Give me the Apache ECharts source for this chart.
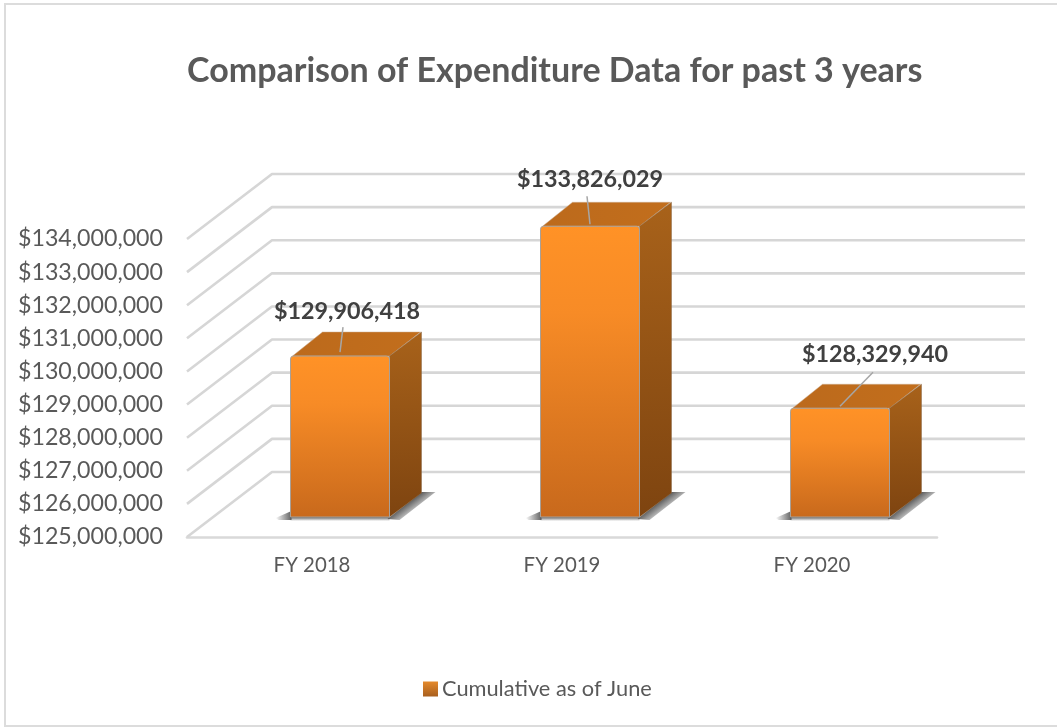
<!DOCTYPE html>
<html><head><meta charset="utf-8">
<style>html,body{margin:0;padding:0;background:#fff}#c{width:1057px;height:727px}</style>
<script src="https://cdn.jsdelivr.net/npm/echarts@6/dist/echarts.min.js"></script>
</head><body><div id="c"></div>
<script>
const categories = ['FY 2018', 'FY 2019', 'FY 2020'];
const seriesName = 'Cumulative as of June';
const values = [129906418, 133826029, 128329940];
const tickValues = [125000000,126000000,127000000,128000000,129000000,130000000,131000000,132000000,133000000,134000000];
const titleText = 'Comparison of Expenditure Data for past 3 years';
const FONT = 'Lato, "Open Sans", sans-serif';

// 3D projection of the Excel-style box (pixels)
const WALL = {dx: 85, dy: -65};
const BAR = {widthRatio: 0.396, shiftRatio: 0.112, shiftY: -20, dx: 32, dy: -24, bevel: 1.5};
// where each hand-moved data label sits relative to the bar's top-front-centre
const LABEL_SHIFT = [{lx: 7, ly: -45, ax: 3, ay: -29, bx: 0, by: -4},
                     {lx: 0, ly: -47, ax: -3, ay: -30, bx: 0, by: -2},
                     {lx: 35, ly: -54, ax: 33, ay: -36, bx: 0, by: -2}];

const usd = v => '$' + Number(v).toLocaleString('en-US');
const chart = echarts.init(document.getElementById('c'), null, {renderer: 'canvas'});

function renderWall(params, api) {
  const v = api.value(0);
  const rect = params.coordSys;
  const p = api.coord([0, v]);
  const x0 = rect.x, y0 = p[1];
  return {type: 'polyline', silent: true,
    shape: {points: [[x0, y0], [x0 + WALL.dx, y0 + WALL.dy], [rect.x + rect.width + 88, y0 + WALL.dy]]},
    style: {fill: null, stroke: '#d6d6d6', lineWidth: 2.6, lineJoin: 'round'}};
}

function fade(x, y, x2, y2) {
  return {type: 'linear', global: true, x: x, y: y, x2: x2, y2: y2,
    colorStops: [{offset: 0, color: 'rgba(80,80,80,0.9)'}, {offset: 1, color: 'rgba(80,80,80,0)'}]};
}

function renderBar(params, api) {
  const i = api.value(0);
  const c = api.coord([i, api.value(1)]);
  const base = api.coord([i, tickValues[0]]);
  const band = api.size([1, 0])[0];
  const w = band * BAR.widthRatio;
  const cx = c[0] + band * BAR.shiftRatio;
  const l = cx - w / 2, r = cx + w / 2;
  const t = c[1] + BAR.shiftY + BAR.bevel, b = base[1] + BAR.shiftY;
  const dx = BAR.dx, dy = BAR.dy;
  const s = LABEL_SHIFT[i];
  const mx = r + dx / 2, my = b + dy / 2;
  return {type: 'group', children: [
    {type: 'polygon', silent: true, shape: {points: [[l + 1, b - 6], [l - 15, b + 1], [l - 12, b + 3], [l + 1, b + 3]]},
      style: {fill: fade(l + 1, b, l - 15, b + 1)}},
    {type: 'rect', silent: true, shape: {x: l, y: b, width: w, height: 4},
      style: {fill: fade(l, b, l, b + 4)}},
    {type: 'polygon', silent: true, shape: {points: [[r - 2, b + 2], [r + dx, b + dy - 1], [r + dx + 14, b + dy - 1], [r + 10, b + 3]]},
      style: {fill: fade(mx, my, mx + 9, my + 12)}},
    {type: 'polygon', shape: {points: [[l + 2, t], [l + dx, t + dy], [r + dx - 1, t + dy], [r, t]]},
      style: {fill: {type: 'linear', x: 0, y: 0, x2: 1, y2: 0, colorStops: [{offset: 0, color: '#BC6A1C'}, {offset: 1, color: '#C26E1C'}]}, stroke: '#c9a98a', lineWidth: 0.5, lineJoin: 'round'}},
    {type: 'polygon', shape: {points: [[r, t], [r + dx, t + dy], [r + dx, b + dy], [r, b]]},
      style: {fill: {type: 'linear', x: 0, y: 0, x2: 0, y2: 1, colorStops: [{offset: 0, color: '#A8621A'}, {offset: 1, color: '#7E4410'}]}, stroke: '#8b6a4a', lineWidth: 0.5}},
    {type: 'rect', shape: {x: l, y: t, width: w, height: b - t, r: [3, 3, 0, 0]},
      style: {fill: {type: 'linear', x: 0, y: 0, x2: 0, y2: 1, colorStops: [{offset: 0, color: '#FF9226'}, {offset: 0.3, color: '#F78B26'}, {offset: 1, color: '#C8691C'}]}, stroke: '#a8a098', lineWidth: 1}},
    {type: 'line', silent: true, shape: {x1: c[0] + band * BAR.shiftRatio + s.bx, y1: t + s.by, x2: cx + s.ax, y2: t + s.ay},
      style: {stroke: '#a6a6a6', lineWidth: 1.5}},
    {type: 'text', silent: true, x: cx + s.lx, y: t + s.ly,
      style: {text: usd(api.value(1)), fill: '#404040', font: 'bold 23.3px ' + FONT, align: 'center', verticalAlign: 'middle'}}
  ]};
}

chart.setOption({
  animation: false,
  backgroundColor: '#fff',
  title: {text: titleText, left: 182, top: 49, textStyle: {fontFamily: FONT, fontSize: 34, fontWeight: 'bold', color: '#595959'}},
  legend: {data: [seriesName], left: 418, top: 673, itemWidth: 15, itemHeight: 15, itemGap: 5, icon: 'rect',
    textStyle: {fontFamily: FONT, fontSize: 21.8, color: '#595959', padding: [0, 0, 3, -1]}},
  grid: {left: 187, top: 239, width: 750, height: 298},
  xAxis: {type: 'category', data: categories,
    axisLine: {show: true, lineStyle: {color: '#d9d9d9', width: 2.6}}, axisTick: {show: false},
    axisLabel: {fontFamily: FONT, fontSize: 20.4, color: '#595959', margin: 18}},
  yAxis: {type: 'value', min: 125000000, max: 134000000, interval: 1000000,
    axisLine: {show: false}, axisTick: {show: false}, splitLine: {show: false},
    axisLabel: {fontFamily: FONT, fontSize: 23.2, color: '#595959', margin: 24, formatter: v => usd(v), padding: [0, 0, 4, 0]}},
  graphic: [{type: 'rect', silent: true, z: -1, shape: {x: 5, y: 4, width: 1070, height: 722}, style: {fill: '#fff', stroke: '#dcdcdc', lineWidth: 2}}],
  series: [
    {type: 'custom', name: 'wall', renderItem: renderWall, data: tickValues.map(v => [v]), encode: {y: 0}, clip: false, silent: true, z: 1},
    {type: 'custom', name: seriesName, renderItem: renderBar, data: values.map((v, i) => [i, v]), encode: {x: 0, y: 1}, clip: false, z: 2,
      itemStyle: {color: {type: 'linear', x: 0, y: 0, x2: 0, y2: 1, colorStops: [{offset: 0, color: '#E58A2C'}, {offset: 1, color: '#A85F1E'}]}}}
  ]
});
</script></body></html>
